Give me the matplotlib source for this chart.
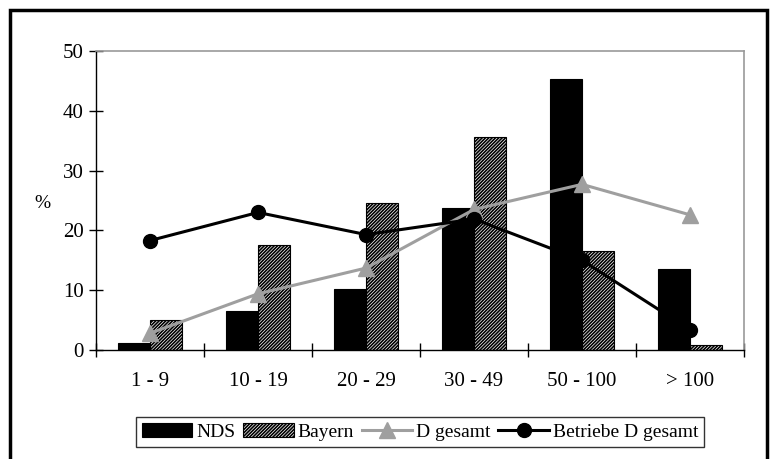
import matplotlib.pyplot as plt
import numpy as np
from matplotlib.patches import Rectangle

plt.rcParams['font.family'] = ['Liberation Serif', 'DejaVu Serif']
plt.rcParams['hatch.linewidth'] = 1.2

cats = ['1 - 9', '10 - 19', '20 - 29', '30 - 49', '50 - 100', '> 100']
nds = [1.2, 6.6, 10.2, 23.7, 45.4, 13.5]
bayern = [5.0, 17.5, 24.5, 35.6, 16.5, 0.8]
d_gesamt = [2.8, 9.4, 13.7, 23.5, 27.7, 22.6]
betriebe = [18.3, 23.0, 19.3, 21.9, 15.0, 3.4]

x = np.arange(len(cats))

fig = plt.figure(figsize=(7.7, 4.59), dpi=100)
ax = fig.add_axes([0.1247, 0.2375, 0.8415, 0.6514])

b1 = ax.bar(x - 0.15, nds, 0.3, color='black', edgecolor='black', linewidth=0.8, label='NDS', zorder=2)
b2 = ax.bar(x + 0.15, bayern, 0.3, color='white', edgecolor='black', hatch='//////////', linewidth=0.8, label='Bayern', zorder=2)
l1, = ax.plot(x, d_gesamt, '-^', color='#9f9f9f', lw=2.2, ms=11, label='D gesamt', zorder=3)
l2, = ax.plot(x, betriebe, '-o', color='black', lw=2.2, ms=10, label='Betriebe D gesamt', zorder=4)

ax.set_xlim(-0.5, 5.5)
ax.set_ylim(0, 50)
ax.set_yticks([0, 10, 20, 30, 40, 50])
ax.set_xticks(x)
ax.set_xticklabels(cats)
ax.set_xticks(np.arange(-0.5, 6.0, 1.0), minor=True)
ax.tick_params(axis='x', which='major', length=0, pad=16, labelsize=15)
ax.tick_params(axis='x', which='minor', direction='inout', length=10, width=1)
ax.tick_params(axis='y', direction='inout', length=10, width=1, labelsize=15, pad=4)

for s in ['top', 'right']:
    ax.spines[s].set_color('#999999')
    ax.spines[s].set_linewidth(1.2)
for s in ['left', 'bottom']:
    ax.spines[s].set_color('black')
    ax.spines[s].set_linewidth(1.0)

fig.text(42 / 770, 1 - 203 / 459, '%', fontsize=14, ha='center', va='center')

leg = fig.legend([b1, b2, l1, l2], ['NDS', 'Bayern', 'D gesamt', 'Betriebe D gesamt'],
                 loc='center', bbox_to_anchor=(420 / 770, 1 - 432 / 459), ncol=4,
                 fontsize=14, frameon=True, fancybox=False, edgecolor='black',
                 handlelength=2.6, handletextpad=0.2, columnspacing=0.4,
                 borderpad=0.3, borderaxespad=0)
leg.get_frame().set_linewidth(1.0)

fig.patches.append(Rectangle((10 / 770, -0.05), 757 / 770, 1.05 - 10 / 459,
                             transform=fig.transFigure, fill=False,
                             edgecolor='black', linewidth=2.5))

fig.savefig('out.png', dpi=100)
